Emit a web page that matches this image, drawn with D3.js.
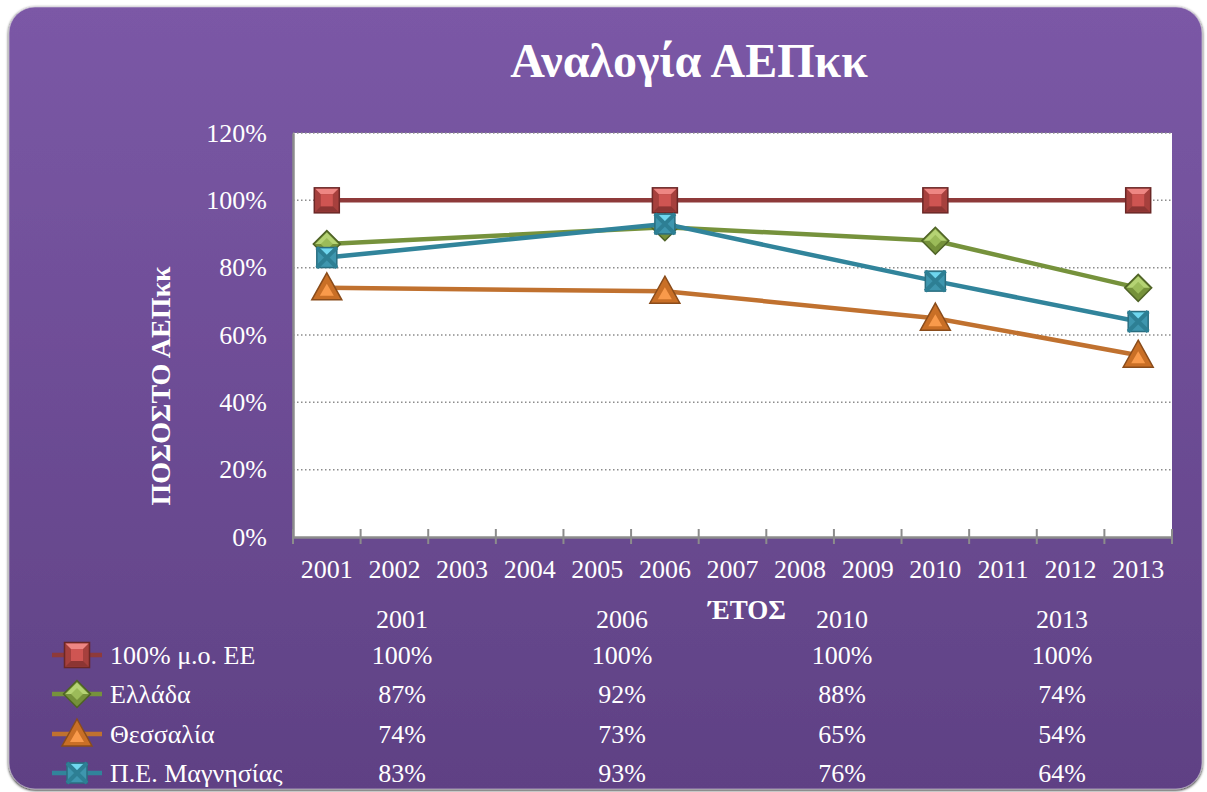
<!DOCTYPE html>
<html>
<head>
<meta charset="utf-8">
<script src="https://cdn.jsdelivr.net/npm/d3@7"></script>
<style>
  html, body { margin: 0; padding: 0; background: #ffffff; }
  svg { display: block; }
  text { font-family: "Liberation Serif", "Times New Roman", serif; fill: #ffffff; }
</style>
</head>
<body>
<div id="chart"></div>
<script>
// axis categories and data
var years = [2001, 2002, 2003, 2004, 2005, 2006, 2007, 2008, 2009, 2010, 2011, 2012, 2013];
var dataYears = [2001, 2006, 2010, 2013];
var yTicks = [0, 0.2, 0.4, 0.6, 0.8, 1.0, 1.2];

var seriesNames = ['100% μ.ο. ΕΕ', 'Ελλάδα', 'Θεσσαλία', 'Π.Ε. Μαγνησίας'];
var euAvg = [1.00, 1.00, 1.00, 1.00];
var greece = [0.87, 0.92, 0.88, 0.74];
var thessaly = [0.74, 0.73, 0.65, 0.54];
var magnesia = [0.83, 0.93, 0.76, 0.64];

var W = 1207, H = 792;
var plot = { left: 293, right: 1172, top: 133, bottom: 537 };
var serif = '"Liberation Serif", "Times New Roman", serif';
var labelSize = '26px';

var svg = d3.select('#chart').append('svg')
  .attr('width', W).attr('height', H);

var defs = svg.append('defs');

var bg = defs.append('linearGradient').attr('id', 'bg')
  .attr('x1', 0).attr('y1', 0).attr('x2', 0).attr('y2', 1);
bg.append('stop').attr('offset', '0%').attr('stop-color', '#7b58a6');
bg.append('stop').attr('offset', '100%').attr('stop-color', '#5f4184');

var shadow = defs.append('filter').attr('id', 'shadow')
  .attr('x', '-5%').attr('y', '-5%').attr('width', '110%').attr('height', '110%');
shadow.append('feGaussianBlur').attr('in', 'SourceAlpha').attr('stdDeviation', 1.5);
shadow.append('feOffset').attr('dx', 0).attr('dy', 1).attr('result', 'b');
var fm = shadow.append('feMerge');
fm.append('feMergeNode').attr('in', 'b');
fm.append('feMergeNode').attr('in', 'SourceGraphic');

// background panel
svg.append('rect')
  .attr('x', 9).attr('y', 7)
  .attr('width', 1193).attr('height', 782)
  .attr('rx', 26).attr('ry', 26)
  .attr('fill', 'url(#bg)')
  .attr('stroke', '#d6d0de').attr('stroke-width', 0.6)
  .attr('filter', 'url(#shadow)');

// title
svg.append('text')
  .attr('x', 689).attr('y', 77)
  .attr('text-anchor', 'middle')
  .style('font-size', '48px').style('font-weight', 'bold')
  .style('font-family', serif)
  .text('Αναλογία ΑΕΠκκ');

// scales
var x = d3.scaleBand().domain(years).range([plot.left, plot.right]).paddingInner(0).paddingOuter(0);
var y = d3.scaleLinear().domain([0, 1.2]).range([plot.bottom, plot.top]);
var cx = function(yr) { return x(yr) + x.bandwidth() / 2; };

// plot area
svg.append('rect')
  .attr('x', plot.left).attr('y', y(1.2))
  .attr('width', plot.right - plot.left).attr('height', y(0) - y(1.2))
  .attr('fill', '#ffffff');

// gridlines
svg.append('g')
  .selectAll('line')
  .data(yTicks.filter(function(d) { return d > 0; }))
  .enter().append('line')
  .attr('x1', plot.left).attr('x2', plot.right)
  .attr('y1', function(d) { return y(d); })
  .attr('y2', function(d) { return y(d); })
  .attr('stroke', '#8c8c8c').attr('stroke-width', 1.5)
  .attr('stroke-dasharray', '1.5,2.5');

// y axis
var yAxis = svg.append('g')
  .attr('transform', 'translate(' + plot.left + ',0)')
  .call(d3.axisLeft(y).tickValues(yTicks).tickFormat(d3.format('.0%')).tickSize(0).tickPadding(26));
yAxis.attr('font-family', null);
yAxis.select('.domain').attr('stroke', '#8c8c8c').attr('stroke-width', 2.5);
yAxis.selectAll('text')
  .attr('fill', '#ffffff')
  .style('font-size', labelSize)
  .style('font-family', serif);

// x axis
var xAxis = svg.append('g')
  .attr('transform', 'translate(0,' + plot.bottom + ')')
  .call(d3.axisBottom(x).tickSize(0).tickPadding(23));
xAxis.attr('font-family', null);
xAxis.select('.domain').attr('stroke', '#8c8c8c').attr('stroke-width', 2.5);
xAxis.selectAll('text')
  .attr('fill', '#ffffff')
  .attr('dy', '0.71em')
  .style('font-size', labelSize)
  .style('font-family', serif);

// boundary tick marks
var bounds = years.map(function(yr) { return x(yr); }).concat([plot.right]);
xAxis.selectAll('line.bound')
  .data(bounds)
  .enter().append('line')
  .attr('class', 'bound')
  .attr('x1', function(d) { return d; }).attr('x2', function(d) { return d; })
  .attr('y1', -8).attr('y2', 7)
  .attr('stroke', '#8c8c8c').attr('stroke-width', 2);

// axis titles
svg.append('text')
  .attr('transform', 'translate(170,386) rotate(-90)')
  .attr('text-anchor', 'middle')
  .style('font-size', '28px').style('font-weight', 'bold')
  .style('font-family', serif)
  .text('ΠΟΣΟΣΤΟ ΑΕΠκκ');

svg.append('text')
  .attr('x', 747).attr('y', 619)
  .attr('text-anchor', 'middle')
  .style('font-size', '27px').style('font-weight', 'bold')
  .style('font-family', serif)
  .text('ΈΤΟΣ');

// marker drawing
function drawSquare(g) {
  var h = 12.5;
  g.append('rect').attr('x', -h).attr('y', -h).attr('width', 2 * h).attr('height', 2 * h)
    .attr('fill', '#a6403d').attr('stroke', '#6a2726').attr('stroke-width', 1.5);
  g.append('path').attr('d', 'M' + (-h + 1) + ',' + (-h + 1) + 'L' + (h - 1) + ',' + (-h + 1) + 'L6,-6L-6,-6Z')
    .attr('fill', '#ee8683');
  g.append('path').attr('d', 'M' + (-h + 1) + ',' + (h - 1) + 'L' + (h - 1) + ',' + (h - 1) + 'L6,6L-6,6Z')
    .attr('fill', '#8c3533');
  g.append('rect').attr('x', -6).attr('y', -6).attr('width', 12).attr('height', 12)
    .attr('fill', '#cf5552');
}
function drawDiamond(g) {
  var h = 13.5;
  g.append('path').attr('d', 'M0,' + (-h) + 'L' + h + ',0L0,' + h + 'L' + (-h) + ',0Z')
    .attr('fill', '#75913a').attr('stroke', '#4f6326').attr('stroke-width', 1.5);
  g.append('path').attr('d', 'M0,' + (-h + 2) + 'L' + (h - 2) + ',0L-' + (h - 2) + ',0Z')
    .attr('fill', '#b5d374');
  g.append('path').attr('d', 'M0,-6L6,0L0,6L-6,0Z').attr('fill', '#9bbb59');
}
function drawTriangle(g) {
  var w = 15, t = -15, b = 12;
  g.append('path').attr('d', 'M0,' + t + 'L' + w + ',' + b + 'L' + (-w) + ',' + b + 'Z')
    .attr('fill', '#c96f26').attr('stroke', '#8a4c1b').attr('stroke-width', 1.5);
  g.append('path').attr('d', 'M0,-4L7,8L-7,8Z').attr('fill', '#f99a4b');
}
function drawXSquare(g) {
  var h = 10;
  g.append('rect').attr('x', -h).attr('y', -h).attr('width', 2 * h).attr('height', 2 * h)
    .attr('fill', '#3e96ae').attr('stroke', '#2a6e80').attr('stroke-width', 1.5);
  g.append('path').attr('d', 'M' + (-h + 1) + ',' + (-h + 1) + 'L' + (h - 1) + ',' + (-h + 1) + 'L0,0Z')
    .attr('fill', '#6fd6ee');
  g.append('path').attr('d', 'M' + (-h) + ',' + (-h) + 'L' + h + ',' + h + 'M' + h + ',' + (-h) + 'L' + (-h) + ',' + h)
    .attr('stroke', '#2d7f94').attr('stroke-width', 4);
}

var series = [
  { name: seriesNames[0], values: euAvg, color: '#8e3a3a', marker: drawSquare },
  { name: seriesNames[1], values: greece, color: '#76923c', marker: drawDiamond },
  { name: seriesNames[2], values: thessaly, color: '#c0712f', marker: drawTriangle },
  { name: seriesNames[3], values: magnesia, color: '#31849b', marker: drawXSquare }
];

var line = d3.line()
  .x(function(d) { return cx(d.year); })
  .y(function(d) { return y(d.value); });

series.forEach(function(s) {
  var pts = dataYears.map(function(yr, i) { return { year: yr, value: s.values[i] }; });
  var g = svg.append('g');
  g.append('path')
    .datum(pts)
    .attr('fill', 'none')
    .attr('stroke', s.color)
    .attr('stroke-width', 4.5)
    .attr('stroke-linejoin', 'round')
    .attr('d', line);
  pts.forEach(function(p) {
    var m = g.append('g').attr('transform', 'translate(' + cx(p.year) + ',' + y(p.value) + ')');
    s.marker(m);
  });
});

// data table under the chart
var tableCols = [402, 622, 842, 1062];
var rowY = [628, 664, 703, 743, 782];
var pct = d3.format('.0%');

svg.append('g').selectAll('text')
  .data(dataYears)
  .enter().append('text')
  .attr('x', function(d, i) { return tableCols[i]; })
  .attr('y', rowY[0])
  .attr('text-anchor', 'middle')
  .style('font-size', labelSize)
  .style('font-family', serif)
  .text(function(d) { return d; });

series.forEach(function(s, r) {
  var ry = rowY[r + 1];
  var key = svg.append('g').attr('transform', 'translate(77,' + (ry - 9) + ')');
  key.append('line').attr('x1', -25).attr('x2', 25).attr('y1', 0).attr('y2', 0)
    .attr('stroke', s.color).attr('stroke-width', 4.5);
  s.marker(key);
  svg.append('text')
    .attr('x', 110).attr('y', ry)
    .style('font-size', labelSize)
    .style('font-family', serif)
    .text(s.name);
  svg.append('g').selectAll('text')
    .data(s.values)
    .enter().append('text')
    .attr('x', function(d, i) { return tableCols[i]; })
    .attr('y', ry)
    .attr('text-anchor', 'middle')
    .style('font-size', labelSize)
    .style('font-family', serif)
    .text(function(d) { return pct(d); });
});
</script>
</body>
</html>
